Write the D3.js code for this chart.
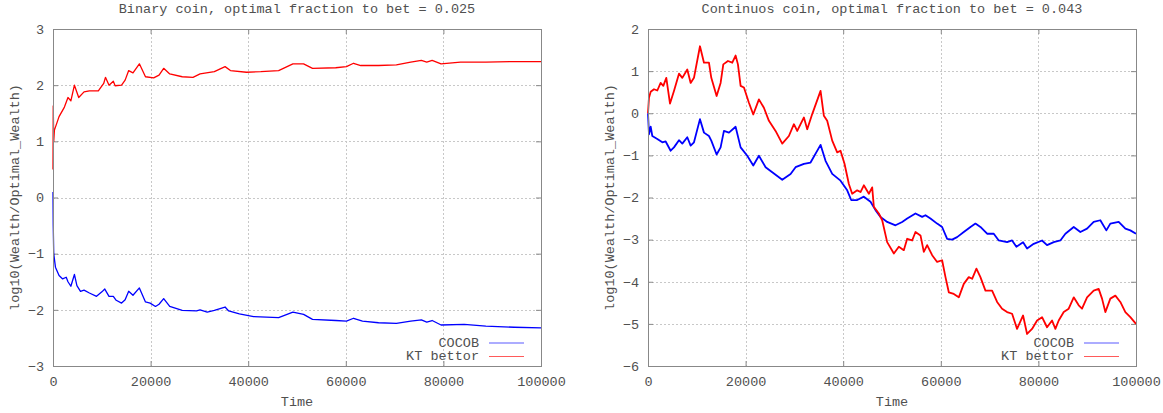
<!DOCTYPE html>
<html>
<head>
<meta charset="utf-8">
<script src="https://cdn.jsdelivr.net/npm/d3@7"></script>
<style>
  html, body { margin: 0; padding: 0; background: #fff; }
  svg { display: block; }
  text { font-family: "Liberation Mono", "DejaVu Sans Mono", monospace; font-size: 13.5px; fill: #505050; }
</style>
</head>
<body>
<svg id="chart" width="1163" height="413"></svg>
<script>
// ---------------- data ----------------
const xTicks = [0, 20000, 40000, 60000, 80000, 100000];
const binaryYTicks = [-3, -2, -1, 0, 1, 2, 3];
const contYTicks = [-6, -5, -4, -3, -2, -1, 0, 1, 2];
const seriesNames = ["COCOB", "KT bettor"];
const titles = ["Binary coin, optimal fraction to bet = 0.025", "Continuos coin, optimal fraction to bet = 0.043"];
const xLabel = "Time";
const yLabel = "log10(Wealth/Optimal_Wealth)";

// Binary coin, KT bettor (red)
const binaryKtTime = [0,50,150,290,1240,2340,3070,3660,4390,5270,6360,7460,9290,10390,10750,11480,12360,12730,14050,14780,15510,16390,17700,18950,20630,21730,22680,23920,26480,28680,30140,33060,35260,36360,39650,42580,46230,49160,51350,53180,57940,60130,61590,63060,66720,70370,73300,75490,76590,77690,79520,83500,88700,94500,100000];
const binaryKtValue = [0.5,1.63,1.0,1.2,1.44,1.61,1.78,1.72,2.0,1.78,1.88,1.9,1.9,2.03,2.14,2.0,2.07,1.99,2.0,2.09,2.26,2.22,2.38,2.15,2.13,2.18,2.3,2.2,2.15,2.14,2.2,2.24,2.33,2.26,2.23,2.24,2.26,2.38,2.38,2.3,2.31,2.33,2.39,2.35,2.35,2.36,2.41,2.44,2.41,2.44,2.38,2.41,2.41,2.42,2.42];

// Binary coin, COCOB (blue)
const binaryCocobTime = [0,50,150,500,1240,1980,2710,3070,3660,4390,4900,5630,6360,7460,8920,10020,10610,11480,12360,12950,14050,14780,15510,16390,17700,18950,19900,21000,21730,22680,23920,26480,29400,30140,31600,33060,35260,36000,38190,41110,46230,49160,51350,53180,57940,60130,61590,63420,66720,70370,73300,75490,76590,77690,79520,84270,88700,94500,100000];
const binaryCocobValue = [0.1,-0.5,-1.0,-1.24,-1.39,-1.45,-1.42,-1.5,-1.58,-1.37,-1.57,-1.67,-1.65,-1.7,-1.76,-1.68,-1.63,-1.76,-1.76,-1.83,-1.88,-1.82,-1.67,-1.74,-1.61,-1.86,-1.88,-1.94,-1.9,-1.8,-1.94,-2.01,-2.02,-2.0,-2.04,-2.01,-1.95,-2.02,-2.07,-2.12,-2.14,-2.04,-2.08,-2.17,-2.19,-2.2,-2.15,-2.2,-2.23,-2.24,-2.2,-2.18,-2.22,-2.19,-2.27,-2.26,-2.29,-2.31,-2.32];

// Continuous coin, KT bettor (red)
const contKtTime = [0,200,550,1230,1910,2590,3140,3750,4510,5320,6350,7030,8050,8740,9420,10650,11470,12490,12970,14060,14880,15430,16380,17270,17950,18430,18980,19660,20680,21570,22730,23750,24780,26140,27510,28870,29900,30580,31950,32630,33650,35360,36040,36720,37750,38770,39450,40270,41160,41840,42870,43550,44230,45260,45940,46280,47300,47990,49010,50380,51400,52420,53110,54130,54810,55840,56520,57200,58230,59250,60270,60960,61640,62660,63690,64710,65730,66420,67300,68120,69150,70510,71540,72560,73580,74610,75630,76860,77680,78700,79730,80750,81770,82800,83480,84160,85190,86210,87240,88260,88940,89970,91330,92350,93040,93720,94740,95770,96790,97820,98840,100000];
const contKtValue = [0.0,0.37,0.51,0.57,0.54,0.72,0.65,0.84,0.23,0.53,0.94,0.84,1.04,0.72,0.84,1.59,1.2,1.2,0.84,0.41,0.72,1.16,1.24,1.2,1.37,1.16,0.65,0.61,0.25,-0.03,0.33,0.13,-0.18,-0.42,-0.72,-0.54,-0.26,-0.42,-0.1,-0.38,-0.02,0.53,-0.06,-0.18,-0.65,-0.93,-0.89,-1.2,-1.68,-1.91,-1.83,-1.87,-1.71,-1.91,-1.76,-2.22,-2.38,-2.54,-3.06,-3.33,-3.17,-3.25,-2.98,-3.02,-2.82,-2.9,-3.29,-3.13,-3.37,-3.53,-3.49,-3.89,-4.25,-4.29,-4.37,-4.05,-3.89,-3.93,-3.69,-3.89,-4.21,-4.21,-4.48,-4.64,-4.72,-4.76,-5.12,-4.8,-5.24,-5.12,-4.92,-4.84,-5.08,-4.92,-5.12,-4.92,-4.72,-4.64,-4.37,-4.56,-4.64,-4.37,-4.21,-4.17,-4.4,-4.72,-4.4,-4.33,-4.48,-4.72,-4.84,-5.0];

// Continuous coin, COCOB (blue)
const contCocobTime = [0,200,550,880,1910,2940,3620,4640,5320,6350,7030,8050,8740,9420,10650,11470,12490,12970,14060,14880,15560,16590,17950,18980,20340,21570,22730,24100,25460,27510,29220,30240,31950,33310,35360,36380,37750,39450,40820,41640,42870,44230,45600,46620,47640,49010,50720,52080,53110,54810,56180,56860,57880,59250,60270,61300,62320,63340,64710,66080,67100,68120,69490,70850,71880,73580,74610,75490,76860,77680,79040,80750,81770,83140,84500,85530,87240,88600,89970,91330,92690,93920,94740,96450,97820,98840,100000];
const contCocobValue = [0.0,-0.5,-0.32,-0.54,-0.61,-0.69,-0.67,-0.89,-0.81,-0.64,-0.72,-0.57,-0.77,-0.69,-0.14,-0.46,-0.54,-0.65,-0.98,-0.81,-0.42,-0.46,-0.32,-0.81,-1.01,-1.24,-1.01,-1.28,-1.4,-1.58,-1.44,-1.28,-1.2,-1.17,-0.75,-1.13,-1.44,-1.6,-1.83,-2.06,-2.06,-1.98,-2.1,-2.3,-2.46,-2.58,-2.66,-2.58,-2.5,-2.38,-2.46,-2.42,-2.5,-2.62,-2.7,-2.98,-3.0,-2.94,-2.82,-2.7,-2.62,-2.7,-2.86,-2.86,-3.02,-3.06,-3.02,-3.17,-3.06,-3.21,-3.1,-3.02,-3.13,-3.06,-3.02,-2.86,-2.7,-2.82,-2.74,-2.58,-2.54,-2.78,-2.62,-2.58,-2.74,-2.78,-2.86];

// ---------------- drawing ----------------
const colors = ["#0000ff", "#ff0000"];
const legendColors = ["#5a5aff", "#ff5a5a"];
const svg = d3.select("#chart");

const panels = [
  { x0: 53, x1: 541, y0: 29, y1: 366, yDomain: [-3, 3], yTicks: binaryYTicks, title: titles[0], lw: 1.3,
    series: [[binaryCocobTime, binaryCocobValue], [binaryKtTime, binaryKtValue]], yLabelX: 15 },
  { x0: 648, x1: 1136, y0: 29, y1: 366, yDomain: [-6, 2], yTicks: contYTicks, title: titles[1], lw: 1.8,
    series: [[contCocobTime, contCocobValue], [contKtTime, contKtValue]], yLabelX: 610 }
];

panels.forEach(p => {
  const x = d3.scaleLinear().domain([0, 100000]).range([p.x0, p.x1]);
  const y = d3.scaleLinear().domain(p.yDomain).range([p.y1, p.y0]);
  const g = svg.append("g");

  // grid
  g.append("g").selectAll("line").data(xTicks.slice(1, -1)).join("line")
    .attr("x1", d => Math.round(x(d)) + 0.5).attr("x2", d => Math.round(x(d)) + 0.5)
    .attr("y1", p.y0).attr("y2", p.y1)
    .attr("stroke", "#c8c8c8").attr("stroke-width", 1).attr("stroke-dasharray", "2,2");
  g.append("g").selectAll("line").data(p.yTicks.slice(1, -1)).join("line")
    .attr("y1", d => Math.round(y(d)) + 0.5).attr("y2", d => Math.round(y(d)) + 0.5)
    .attr("x1", p.x0).attr("x2", p.x1)
    .attr("stroke", "#c8c8c8").attr("stroke-width", 1).attr("stroke-dasharray", "2,2");

  // axes (gnuplot style: inward ticks, mirrored)
  const axB = d3.axisBottom(x).tickValues(xTicks).tickSize(-5).tickPadding(10).tickFormat(d3.format("d"));
  const axT = d3.axisTop(x).tickValues(xTicks).tickSize(-5).tickFormat("");
  const axL = d3.axisLeft(y).tickValues(p.yTicks).tickSize(-5).tickPadding(9).tickFormat(d3.format("d"));
  const axR = d3.axisRight(y).tickValues(p.yTicks).tickSize(-5).tickFormat("");
  const styleAxis = sel => {
    sel.select(".domain").remove();
    sel.selectAll("line").attr("stroke", "#888");
    sel.selectAll("text").attr("fill", "#505050").style("font-family", "'Liberation Mono', monospace").style("font-size", "13.5px");
  };
  g.append("g").attr("transform", `translate(0,${p.y1})`).call(axB).call(styleAxis);
  g.append("g").attr("transform", `translate(0,${p.y0})`).call(axT).call(styleAxis);
  g.append("g").attr("transform", `translate(${p.x0},0)`).call(axL).call(styleAxis);
  g.append("g").attr("transform", `translate(${p.x1},0)`).call(axR).call(styleAxis);

  // data lines
  const line = d3.line().x(d => x(d[0])).y(d => y(d[1]));
  p.series.forEach((s, i) => {
    const pts = s[0].map((t, k) => [t, s[1][k]]);
    g.append("path").datum(pts).attr("d", line)
      .attr("fill", "none").attr("stroke", colors[i]).attr("stroke-width", p.lw)
      .attr("stroke-linejoin", "round");
  });

  // frame
  g.append("rect").attr("x", p.x0 + 0.5).attr("y", p.y0 + 0.5)
    .attr("width", p.x1 - p.x0).attr("height", p.y1 - p.y0)
    .attr("fill", "none").attr("stroke", "#888").attr("stroke-width", 1);

  // legend
  const legTextX = p.x1 - 62;
  const legRows = [343, 356.5];
  seriesNames.forEach((name, i) => {
    g.append("text").attr("x", legTextX).attr("y", legRows[i]).attr("text-anchor", "end")
      .attr("dominant-baseline", "central").text(name);
    g.append("line").attr("x1", p.x1 - 52).attr("x2", p.x1 - 17)
      .attr("y1", legRows[i]).attr("y2", legRows[i])
      .attr("stroke", legendColors[i]).attr("stroke-width", 1.2);
  });

  // title, x label, y label
  const cx = (p.x0 + p.x1) / 2;
  g.append("text").attr("x", cx).attr("y", 13).attr("text-anchor", "middle").text(p.title);
  g.append("text").attr("x", cx).attr("y", 406).attr("text-anchor", "middle").text(xLabel);
  g.append("text").attr("transform", `translate(${p.yLabelX},${(p.y0 + p.y1) / 2}) rotate(-90)`)
    .attr("text-anchor", "middle").attr("dominant-baseline", "central").text(yLabel);
});
</script>
</body>
</html>
